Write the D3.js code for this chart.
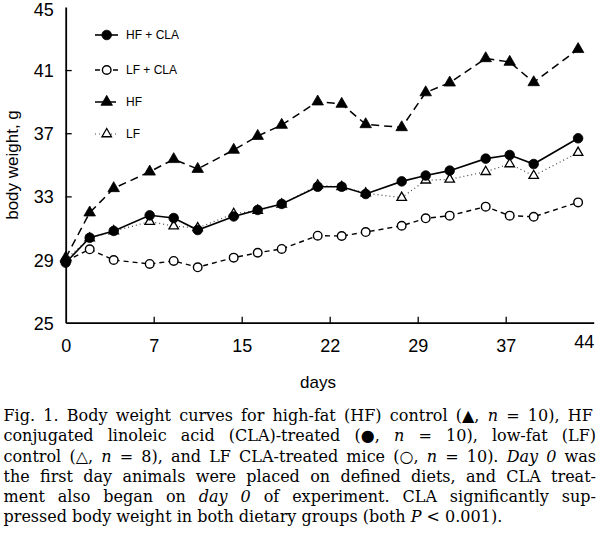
<!DOCTYPE html>
<html><head><meta charset="utf-8">
<script src="https://cdn.jsdelivr.net/npm/d3@7/dist/d3.min.js"></script>
<style>body{margin:0;background:#fff}svg{display:block}</style>
</head><body><svg id="c" width="600" height="537"></svg>
<script>
// ---- data ----
const days   = [0, 2, 4, 7, 9, 11, 14, 16, 18, 21, 23, 25, 28, 30, 32, 35, 37, 39, 42.7];
const hfCla  = [28.8, 30.38, 30.81, 31.80, 31.63, 30.87, 31.73, 32.14, 32.52, 33.61, 33.61, 33.15, 33.95, 34.32, 34.63, 35.39, 35.62, 35.05, 36.68];
const lfCla  = [28.9, 29.65, 28.97, 28.72, 28.91, 28.51, 29.12, 29.43, 29.67, 30.51, 30.49, 30.74, 31.14, 31.61, 31.78, 32.35, 31.78, 31.71, 32.62];
const hf     = [29.1, 31.97, 33.51, 34.56, 35.35, 34.73, 35.94, 36.82, 37.52, 39.00, 38.85, 37.56, 37.37, 39.58, 40.20, 41.74, 41.51, 40.22, 42.32];
const lf     = [29.0, 30.35, 30.80, 31.40, 31.12, 31.00, 31.90, 32.10, 32.50, 33.70, 33.60, 33.20, 32.92, 34.02, 34.08, 34.56, 35.05, 34.31, 35.77];
const seriesNames = ["HF + CLA", "LF + CLA", "HF", "LF"];
const yTicks = [25, 29, 33, 37, 41, 45];
const xTickLabels = ["0", "7", "15", "22", "29", "37", "44"];
const xMax = 44;
const xTitle = "days";
const yTitle = "body weight, g";
const captionLines = [
  "Fig. 1.  Body weight curves for high-fat (HF) control (\u25B2, _n_ = 10), HF",
  "conjugated linoleic acid (CLA)-treated (\u25CF, _n_ = 10), low-fat (LF)",
  "control (\u25B3, _n_ = 8), and LF CLA-treated mice (\u25CB, _n_ = 10). _Day 0_ was",
  "the first day animals were placed on defined diets, and CLA treat-",
  "ment also began on _day 0_ of experiment. CLA significantly sup-",
  "pressed body weight in both dietary groups (both _P_ < 0.001)."
];

// ---- drawing ----
const svg = d3.select("#c");
const x = d3.scaleLinear([0, xMax], [65.7, 593.7]);
const y = d3.scaleLinear([25, 45], [322.7, 6.9]);
const sans = "'Liberation Sans', Arial, Helvetica, sans-serif";

const xTickPos = xTickLabels.map((_, i) => i * xMax / (xTickLabels.length - 1));

const gx = svg.append("g").attr("transform", `translate(0,${y(25)})`)
  .call(d3.axisBottom(x).tickValues(xTickPos).tickFormat((d, i) => xTickLabels[i])
    .tickSizeInner(-6).tickSizeOuter(0).tickPadding(17));
const gy = svg.append("g").attr("transform", `translate(${x(0)},0)`)
  .call(d3.axisLeft(y).tickValues(yTicks).tickFormat(d3.format("d"))
    .tickSizeInner(-6).tickSizeOuter(0).tickPadding(12));

[gx, gy].forEach(g => {
  g.select(".domain").attr("stroke", "#000").attr("stroke-width", 1.8);
  g.selectAll(".tick line").attr("stroke", "#000").attr("stroke-width", 1.3);
  g.selectAll(".tick text").attr("font-family", sans).attr("font-size", 18).attr("fill", "#000");
});
gx.selectAll(".tick").filter((d, i, n) => i === 0 || i === n.length - 1).select("line").remove();
gy.selectAll(".tick").filter((d, i, n) => i === 0 || i === n.length - 1).select("line").remove();
gx.selectAll(".tick").filter((d, i, n) => i === n.length - 1).select("text")
  .attr("text-anchor", "end").attr("dy", "0.45em");
gy.selectAll(".tick text").attr("dy", "0.36em");
gy.selectAll(".tick").filter((d, i, n) => i === n.length - 1).select("text").attr("dy", "0.5em");

svg.append("text").attr("x", 318).attr("y", 382).attr("text-anchor", "middle")
  .attr("dominant-baseline", "central").attr("font-family", sans).attr("font-size", 17).text(xTitle);
svg.append("text").attr("transform", "translate(12,165) rotate(-90)").attr("text-anchor", "middle")
  .attr("dominant-baseline", "central").attr("font-family", sans).attr("font-size", 17).text(yTitle);

// series definitions
const triArea = s => s * s * Math.sqrt(3) / 4;
const series = [
  {name: seriesNames[3], vals: lf,    dash: "1,3", sw: 1.2, stroke: "#444", sym: d3.symbolTriangle, size: triArea(9.5), fill: "#fff", mstroke: 1.3},
  {name: seriesNames[1], vals: lfCla, dash: "5,4", sw: 1.4, stroke: "#000", sym: d3.symbolCircle, size: Math.PI * 4.3 * 4.3, fill: "#fff", mstroke: 1.4},
  {name: seriesNames[2], vals: hf,    dash: "8,5", sw: 1.5, stroke: "#000", sym: d3.symbolTriangle, size: triArea(11.5), fill: "#000", mstroke: 0.8},
  {name: seriesNames[0], vals: hfCla, dash: null,  sw: 1.6, stroke: "#000", sym: d3.symbolCircle, size: Math.PI * 4.8 * 4.8, fill: "#000", mstroke: 0.8}
];

const line = d3.line().x(d => x(d[0])).y(d => y(d[1]));
series.forEach(s => {
  const pts = days.map((d, i) => [d, s.vals[i]]);
  svg.append("path").attr("d", line(pts)).attr("fill", "none")
    .attr("stroke", s.stroke).attr("stroke-width", s.sw)
    .attr("stroke-dasharray", s.dash);
  svg.append("g").selectAll("path").data(pts).join("path")
    .attr("transform", d => `translate(${x(d[0])},${y(d[1])})`)
    .attr("d", d3.symbol(s.sym, s.size))
    .attr("fill", s.fill).attr("stroke", "#000").attr("stroke-width", s.mstroke);
});

// legend
const legendY = [35, 70, 102, 134];
const legOrder = [3, 1, 2, 0];
legOrder.forEach((si, k) => {
  const s = series[si];
  const ly = legendY[k];
  svg.append("line").attr("x1", 95).attr("x2", 118).attr("y1", ly).attr("y2", ly)
    .attr("stroke", s.stroke).attr("stroke-width", s.sw).attr("stroke-dasharray", s.dash);
  svg.append("path").attr("transform", `translate(106.7,${ly})`)
    .attr("d", d3.symbol(s.sym, s.size)).attr("fill", s.fill)
    .attr("stroke", "#000").attr("stroke-width", s.mstroke);
  svg.append("text").attr("x", 126).attr("y", ly).attr("dominant-baseline", "central")
    .attr("font-family", sans).attr("font-size", 12).text(s.name);
});

// caption
const capBase = [420.5, 441, 461.5, 482, 502, 521.7];
const capLeft = 3.5, capRight = 596;
captionLines.forEach((ln, i) => {
  const t = svg.append("text").attr("x", capLeft).attr("y", capBase[i])
    .attr("font-family", "'DejaVu Serif', 'Liberation Serif', serif").attr("font-size", 16)
    .attr("fill", "#000");
  ln.split("_").forEach((seg, j) => {
    t.append("tspan").attr("font-style", j % 2 ? "italic" : "normal").text(seg);
  });
  if (i < captionLines.length - 1) {
    const natural = t.node().getComputedTextLength();
    const spaces = (ln.match(/ /g) || []).length;
    const ws = (capRight - capLeft - natural) / spaces;
    t.attr("word-spacing", ws);
  }
});
</script></body></html>
